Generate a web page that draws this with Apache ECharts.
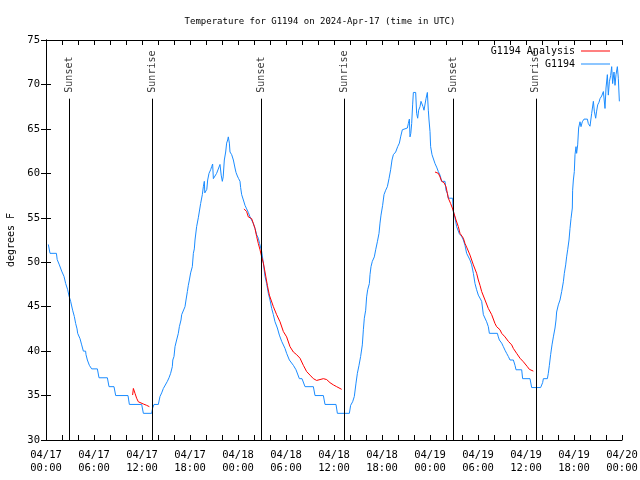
<!DOCTYPE html>
<html><head><meta charset="utf-8">
<script src="https://cdn.jsdelivr.net/npm/echarts@6/dist/echarts.min.js"></script>
<style>html,body{margin:0;padding:0;background:#fff}#c{width:640px;height:480px}</style>
</head><body><div id="c"></div>
<script>
// hours since 2024-04-17 00:00 UTC, temperature (F)
const g1194 = [[0.29,52],[0.45,52],[0.5,51],[1.3,51],[1.4,50.3],[1.67,49.7],[1.96,49],[2.25,48.4],[2.46,47.6],[2.71,46.9],[2.88,46.2],[3.08,45.6],[3.33,44.6],[3.54,43.9],[3.71,43.1],[3.88,42.5],[3.96,42],[4.2,42],[4.25,41.4],[4.46,40.7],[4.67,40],[4.95,40],[5.0,39.6],[5.17,39],[5.4,39],[5.42,38.4],[5.71,38],[6.42,38],[6.625,37],[7.67,37],[7.875,36],[8.5,36],[8.71,35],[10.25,35],[10.42,34],[11.96,34],[12.17,33],[13.21,33],[13.33,33.6],[13.5,34],[14.04,34],[14.25,34.9],[14.46,35.3],[14.67,35.8],[14.875,36],[15.17,36.6],[15.375,37],[15.58,37.5],[15.79,38.25],[15.85,39],[16.0,39.4],[16.125,40.5],[16.33,41.25],[16.54,42],[16.67,42.75],[16.875,43.5],[16.96,44.1],[17.17,44.3],[17.375,45],[17.5,45.75],[17.67,46.7],[17.79,47.4],[17.92,48],[18.08,48.8],[18.29,49.5],[18.42,51],[18.54,51.5],[18.625,52.5],[18.83,54],[19.04,55],[19.33,56.6],[19.54,57.6],[19.67,58.5],[19.79,59.1],[19.85,57.8],[19.96,57.6],[20.1,58.2],[20.21,59.25],[20.375,60],[20.58,60.4],[20.71,60.75],[20.83,61.05],[20.92,59.4],[21.05,59.2],[21.17,59.6],[21.33,60],[21.55,60.2],[21.75,61],[21.9,59.8],[22.04,59.1],[22.15,59.6],[22.29,61.5],[22.46,62.4],[22.58,63.4],[22.71,63.75],[22.79,64.1],[22.92,63.4],[23.0,62.4],[23.21,62.1],[23.42,61.5],[23.625,60.6],[23.75,60.1],[23.92,59.7],[24.08,59.4],[24.25,59.1],[24.33,58.4],[24.46,57.6],[24.67,57],[24.875,56.4],[25.08,56],[25.29,55.6],[25.5,55.1],[25.71,54.9],[25.9,54.4],[26.125,53.8],[26.33,53.1],[26.54,52.7],[26.7,52.1],[26.96,51.2],[27.17,49.9],[27.375,48.4],[27.58,47.6],[27.79,46.5],[28,45.75],[28.21,44.8],[28.42,44.1],[28.625,43.3],[28.92,42.6],[29.17,41.8],[29.46,41.1],[29.875,40.3],[30.08,39.75],[30.42,39],[30.92,38.4],[31.25,37.9],[31.67,36.9],[32.0,36.9],[32.375,36],[33.42,36],[33.625,35],[34.67,35],[34.875,34],[36.25,34],[36.42,33],[37.92,33],[38.08,33.9],[38.33,34.3],[38.54,34.9],[38.75,36.4],[38.92,37.5],[39.125,38.4],[39.33,39.4],[39.54,40.7],[39.67,42.4],[39.79,43.7],[39.96,44.6],[40.08,46.1],[40.21,46.9],[40.42,47.6],[40.5,48.6],[40.625,49.5],[40.79,50.1],[41.04,50.6],[41.21,51.4],[41.42,52.3],[41.625,53.25],[41.75,54.4],[41.875,55.3],[42.08,56.4],[42.25,57.6],[42.46,58.1],[42.67,58.5],[42.875,59.4],[43.08,60.4],[43.25,61.5],[43.42,62.1],[43.71,62.4],[43.96,63],[44.17,63.4],[44.33,64.1],[44.54,64.9],[44.75,65.1],[45.17,65.1],[45.29,65.6],[45.42,66.1],[45.5,64.1],[45.6,64.5],[45.71,65.6],[45.83,67.7],[45.92,69.1],[46.21,69.1],[46.33,66.75],[46.46,66.2],[46.58,67.1],[46.75,67.5],[46.875,68.1],[47.0,67.8],[47.125,67.5],[47.25,67.1],[47.42,67.1],[47.5,68.4],[47.58,68.6],[47.67,69.1],[47.79,67.1],[47.875,66],[48,64.7],[48.08,63],[48.25,62.1],[48.42,61.9],[48.625,61.1],[48.83,60.7],[49.04,60.2],[49.25,59.8],[49.46,59.1],[49.875,59.1],[50,58.1],[50.17,57.75],[50.29,57.2],[50.83,57.2],[50.92,55.7],[51.125,55],[51.33,54],[51.5,54],[51.67,53.2],[51.96,52.9],[52.17,52.5],[52.375,51.9],[52.58,51],[52.8,50.9],[53,50.25],[53.21,49.7],[53.42,48.75],[53.625,47.6],[53.83,46.9],[54.04,46.3],[54.25,46.1],[54.46,45.6],[54.67,44.1],[54.85,44],[55.08,43.3],[55.29,42.75],[55.42,42],[56.42,42],[56.54,41.6],[56.67,41.25],[56.8,41.1],[56.96,40.9],[57.17,40.5],[57.375,40.1],[57.58,39.75],[57.79,39.4],[58,39],[58.42,39],[58.625,38.4],[58.75,37.9],[59.46,37.9],[59.58,36.9],[60.5,36.9],[60.71,35.9],[61.83,35.9],[62.08,36.45],[62.17,36.9],[62.67,36.9],[62.79,37.5],[62.92,38.4],[63.08,39.6],[63.25,40.7],[63.42,41.6],[63.625,42.6],[63.75,43.5],[63.83,44.4],[64.04,45.2],[64.25,45.75],[64.46,46.7],[64.67,47.8],[64.79,48.75],[64.96,49.7],[65.08,50.6],[65.21,51.4],[65.375,52.5],[65.5,53.8],[65.625,54.9],[65.79,56.1],[65.83,58.1],[65.92,59.25],[66.04,60.2],[66.125,62.1],[66.25,63],[66.33,62.25],[66.46,63.2],[66.58,65.1],[66.75,65.8],[66.875,65.25],[67.04,65.8],[67.25,66.1],[67.67,66.1],[67.79,65.6],[68.0,65.3],[68.21,66.75],[68.42,68.1],[68.54,67],[68.71,66.2],[68.83,67],[68.96,67.7],[69.125,68],[69.25,68.4],[69.46,68.7],[69.67,69.2],[69.875,67.3],[70,69.6],[70.17,71.1],[70.29,68.8],[70.42,70.3],[70.58,71],[70.71,72],[70.83,70.1],[71,71.4],[71.125,69.9],[71.25,71.1],[71.42,72],[71.54,70.7],[71.67,68.1]];

const analysis1 = [[10.83,35.06],[10.92,35.8],[11.125,35.25],[11.33,34.7],[11.54,34.3],[11.75,34.2],[12.17,34.05],[12.58,33.9],[12.92,33.75]];
const analysis2 = [[24.75,56],[25.08,55.7],[25.29,55.1],[25.71,54.9],[25.9,54.4],[26.125,53.8],[26.33,52.9],[26.54,52.1],[26.75,51.4],[26.96,50.6],[27.17,49.9],[27.375,48.9],[27.67,47.4],[27.92,46.3],[28.42,45],[28.83,44.1],[29.25,43.3],[29.67,42.2],[30.08,41.6],[30.5,40.5],[30.92,39.9],[31.33,39.6],[31.75,39.2],[32.17,38.4],[32.58,37.7],[33,37.3],[33.42,36.9],[33.83,36.7],[34.25,36.8],[34.67,36.9],[35.08,36.8],[35.5,36.45],[35.92,36.2],[36.33,36],[36.75,35.8],[36.96,35.7]];
const analysis3 = [[48.625,60.15],[49.04,60.0],[49.25,59.6],[49.46,59.1],[49.75,58.95],[50,58.5],[50.17,57.75],[50.29,57.2],[50.58,56.6],[50.79,56.1],[51,55.5],[51.25,54.75],[51.54,54],[51.75,53.25],[52.17,52.7],[52.375,52.1],[52.58,51.7],[53,50.8],[53.21,50.25],[53.42,49.7],[53.83,48.75],[54.04,48],[54.25,47.4],[54.46,46.7],[54.875,45.75],[55.29,44.8],[55.71,44.1],[56.125,43.1],[56.33,42.75],[56.75,42.4],[56.96,42],[57.375,41.6],[57.79,41.1],[58.21,40.7],[58.42,40.3],[58.83,39.75],[59.25,39.2],[59.67,38.8],[60.17,38.25],[60.42,37.95],[60.58,37.75],[60.92,37.75]];

const sunsetHours = [2.93, 26.95, 50.95];
const sunriseHours = [13.28, 37.27, 61.22];
const markerTop = 68.4;
const yMin = 30, yMax = 75, yStep = 5;
const xMin = 0, xMax = 72, xStep = 2, labelEvery = 6;
const dayLabels = ['04/17','04/18','04/19','04/20'];

const FONT = 'DejaVu Sans Mono';
const events = sunsetHours.map(h => ({h, name:'Sunset'})).concat(sunriseHours.map(h => ({h, name:'Sunrise'})));

function fmtX(v){
  if (Math.round(v) % labelEvery !== 0) return '';
  const d = Math.floor(v/24), hh = Math.round(v - d*24);
  return dayLabels[d] + '\n' + String(hh).padStart(2,'0') + ':00';
}

const chart = echarts.init(document.getElementById('c'), null, {renderer:'canvas'});
const axCommon = {axisLine:{show:true,lineStyle:{color:'#000',width:1}}, splitLine:{show:false}};
chart.setOption({
  animation:false,
  backgroundColor:'#fff',
  title:{text:'Temperature for G1194 on 2024-Apr-17 (time in UTC)', left:'center', top:12,
    textStyle:{fontFamily:FONT, fontSize:9, fontWeight:'normal', color:'#000'}},
  grid:{left:46, right:18, top:40, bottom:40, containLabel:false, outerBoundsMode:'none'},
  legend:[
    {data:['G1194 Analysis'], right:30, top:46, padding:0, icon:'rect', itemWidth:29, itemHeight:1, itemGap:4,
     align:'right', textStyle:{fontFamily:FONT, fontSize:10, color:'#000', padding:[0,1,0,0]}},
    {data:['G1194'], right:30, top:59, padding:0, icon:'rect', itemWidth:29, itemHeight:1, itemGap:4,
     align:'right', textStyle:{fontFamily:FONT, fontSize:10, color:'#000', padding:[0,1,0,0]}}
  ],
  xAxis:[
    Object.assign({type:'value', min:xMin, max:xMax, interval:xStep, position:'bottom',
      axisTick:{show:true, inside:true, length:5, lineStyle:{color:'#000'}},
      axisLabel:{formatter:fmtX, fontFamily:FONT, fontSize:10.5, lineHeight:13, color:'#000', margin:9}}, axCommon),
    Object.assign({type:'value', min:xMin, max:xMax, interval:xStep, position:'top',
      axisTick:{show:true, inside:true, length:5, lineStyle:{color:'#000'}},
      axisLabel:{show:false}}, axCommon)
  ],
  yAxis:[
    Object.assign({type:'value', min:yMin, max:yMax, interval:yStep, position:'left',
      name:'degrees F', nameLocation:'middle', nameGap:30, nameRotate:90,
      nameTextStyle:{fontFamily:FONT, fontSize:10, color:'#000'},
      axisTick:{show:true, inside:true, length:5, lineStyle:{color:'#000'}},
      axisLabel:{fontFamily:FONT, fontSize:10.5, color:'#000', margin:6}}, axCommon),
    Object.assign({type:'value', min:yMin, max:yMax, interval:yStep, position:'right',
      axisTick:{show:true, inside:true, length:5, lineStyle:{color:'#000'}},
      axisLabel:{show:false}}, axCommon)
  ],
  series:[
    {name:'G1194', type:'line', data:g1194, showSymbol:false, symbol:'none', color:'#1b8cff',
      lineStyle:{width:1, color:'#1b8cff'}, z:3,
      markLine:{silent:true, symbol:'none', label:{show:false},
        lineStyle:{color:'#000', width:1, type:'solid'},
        data: events.map(e => [{coord:[e.h, yMin]}, {coord:[e.h, markerTop]}])}},
    {name:'G1194 Analysis', type:'line', data:analysis1, symbol:'none', color:'#ff0000', lineStyle:{width:1, color:'#ff0000'}, z:4},
    {name:'G1194 Analysis', type:'line', data:analysis2, symbol:'none', color:'#ff0000', lineStyle:{width:1, color:'#ff0000'}, z:4},
    {name:'G1194 Analysis', type:'line', data:analysis3, symbol:'none', color:'#ff0000', lineStyle:{width:1, color:'#ff0000'}, z:4},
    {name:'events', type:'scatter', symbolSize:0, silent:true,
      data: events.map(e => ({value:[e.h, markerTop], name:e.name})),
      label:{show:true, formatter:p => p.name, position:'top', distance:6, rotate:90,
        align:'left', verticalAlign:'middle', fontFamily:FONT, fontSize:10, color:'#000'}}
  ]
});
</script></body></html>
